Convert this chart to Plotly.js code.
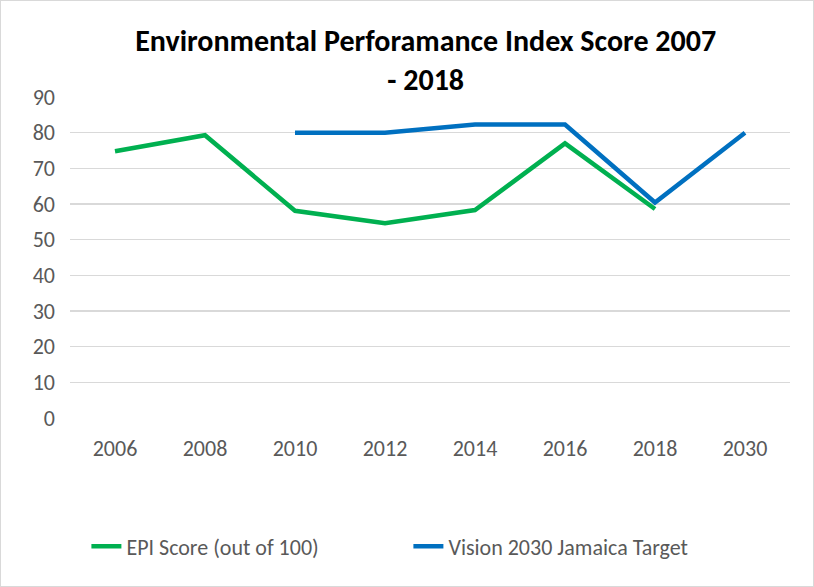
<!DOCTYPE html>
<html>
<head>
<meta charset="utf-8">
<script src="https://cdn.plot.ly/plotly-3.0.1.min.js"></script>
<style>
html,body{margin:0;padding:0;background:#fff;}
#chart{width:814px;height:587px;box-sizing:border-box;border:1px solid #d9d9d9;}
</style>
</head>
<body>
<div id="chart"></div>
<script>
const years = ["2006","2008","2010","2012","2014","2016","2018","2030"];
const epiScore = [74.8, 79.3, 58.1, 54.6, 58.3, 77.0, 58.6, null];
const visionTarget = [null, null, 80, 80, 82.3, 82.3, 60.4, 80];
const yTicks = [0,10,20,30,40,50,60,70,80,90];

const font = "Carlito, 'Open Sans', sans-serif";

const traces = [
  {x: years, y: epiScore, name: "EPI Score (out of 100)", type: "scatter", mode: "lines",
   line: {color: "#00B050", width: 4.5}, connectgaps: false},
  {x: years, y: visionTarget, name: "Vision 2030 Jamaica Target", type: "scatter", mode: "lines",
   line: {color: "#0070C0", width: 4.5}, connectgaps: false}
];

const layout = {
  width: 812, height: 585,
  paper_bgcolor: "#fff", plot_bgcolor: "#fff",
  margin: {l: 69, r: 23, t: 96, b: 168},
  title: {text: "<b>Environmental Perforamance Index Score 2007<br>- 2018</b>",
          font: {family: font, size: 30, color: "#000"}, x: 0.523, xanchor: "center",
          yref: "container", y: 0.915, yanchor: "top"},
  xaxis: {type: "category", range: [-0.5, 7.5], showgrid: false, zeroline: false, showline: false,
          tickfont: {family: font, size: 22, color: "#595959"}, ticks: "", ticklen: 0, ticklabelstandoff: 15},
  yaxis: {range: [0, 90], tickvals: yTicks, showgrid: true, gridcolor: "#d9d9d9", gridwidth: 1.3,
          zeroline: false, showline: false, ticks: "", ticklen: 0, ticklabelstandoff: 14,
          tickfont: {family: font, size: 22, color: "#595959"}},
  legend: {orientation: "h", x: 0.47, xanchor: "center", y: -0.4, yanchor: "middle",
           entrywidth: 277, entrywidthmode: "pixels",
           font: {family: font, size: 22, color: "#595959"}},
  showlegend: true
};

Plotly.newPlot("chart", traces, layout, {displayModeBar: false, staticPlot: true});
</script>
</body>
</html>
